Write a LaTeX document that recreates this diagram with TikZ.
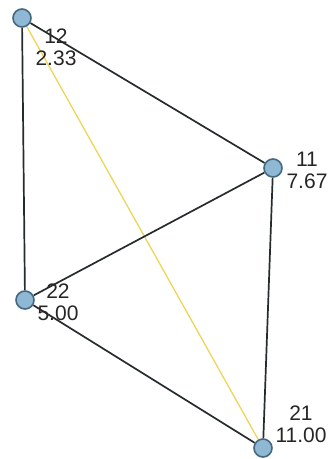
\documentclass[tikz,border=0pt]{standalone}
\usepackage{fontspec}
\setmainfont{Liberation Sans}
\usetikzlibrary{positioning,backgrounds}
\definecolor{vertexFill}{HTML}{8FB8D4}
\definecolor{vertexRim}{HTML}{46687E}
\definecolor{edgeInk}{HTML}{262B2D}
\definecolor{edgeGold}{HTML}{EDD55A}
\begin{document}
\begin{tikzpicture}[
  x=1pt,y=-1pt,
  font=\fontsize{21}{22}\selectfont,
  vertex/.style={circle,draw=vertexRim,fill=vertexFill,line width=1.6pt,minimum size=18pt,inner sep=0pt},
  lbl/.style={align=center,inner sep=0pt,text=black!85},
  edge/.style={line width=1.7pt,edgeInk},
  hot/.style={line width=1.3pt,edgeGold}
]
  \useasboundingbox (0,0) rectangle (335,459);
  % vertices
  \node[vertex] (v12) at (22,18) {};
  \node[vertex] (v11) at (273,168) {};
  \node[vertex] (v22) at (25,300) {};
  \node[vertex] (v21) at (263,448) {};
  % connectors
  \begin{scope}[on background layer]
  \draw[hot] (v12) -- (v21);
  \draw[edge] (v12) -- (v11);
  \draw[edge] (v12) -- (v22);
  \draw[edge] (v11) -- (v22);
  \draw[edge] (v11) -- (v21);
  \draw[edge] (v22) -- (v21);
  \end{scope}
  % labels
  \node[lbl] (t12) at (56,47) {12\\2.33};
  \node[lbl] (t11) at (307,170) {11\\7.67};
  \node[lbl] (t22) at (58,302) {22\\5.00};
  \node[lbl] (t21) at (301,424) {21\\11.00};
\end{tikzpicture}
\end{document}
